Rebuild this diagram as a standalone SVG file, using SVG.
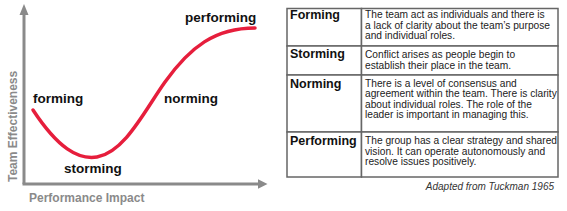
<svg xmlns="http://www.w3.org/2000/svg" width="567" height="211" viewBox="0 0 567 211">
<style>
.ax{stroke:#8a8a8a;stroke-width:3;fill:none}
.axh{fill:#8a8a8a}
.axl{font-family:"Liberation Sans",Arial,sans-serif;font-weight:bold;font-size:12px;fill:#8a8a8a}
.stage{font-family:"Liberation Sans",Arial,sans-serif;font-weight:bold;font-size:13.5px;fill:#111}
.curve{stroke:#e61e3c;stroke-width:3.5;fill:none;stroke-linecap:round}
.cell{fill:#fff;stroke:#666;stroke-width:1.5}
.lab{font-family:"Liberation Sans",Arial,sans-serif;font-weight:bold;font-size:12.5px;fill:#111}
.desc{font-family:"Liberation Sans",Arial,sans-serif;font-size:10.2px;fill:#222}
.cap{font-family:"Liberation Sans",Arial,sans-serif;font-style:italic;font-size:10px;fill:#333}
</style>
<g id="chart">
<g id="axes">
<line class="ax" x1="24" y1="184" x2="24" y2="13"/>
<polygon class="axh" points="19.5,15 24,4 28.5,15"/>
<line class="ax" x1="22.5" y1="184" x2="259" y2="184"/>
<polygon class="axh" points="258,179.3 267.5,184 258,188.7"/>
<text class="axl" x="29" y="202">Performance Impact</text>
<text class="axl" transform="translate(16.5,182) rotate(-90)" font-size="11.5">Team Effectiveness</text>
</g>
<path class="curve" d="M33,110 C58,148 78,160 97,157 C125,152 145,110 165,82 C190,47 215,28 255,28"/>
<text class="stage" x="33" y="103">forming</text>
<text class="stage" x="64" y="172.5">storming</text>
<text class="stage" x="164" y="103">norming</text>
<text class="stage" x="185" y="22">performing</text>
</g>
<g id="table">
<g id="row-forming">
<rect class="cell" x="287" y="8.5" width="74.5" height="37.5"/>
<rect class="cell" x="361.5" y="8.5" width="196.5" height="37.5"/>
<text class="lab" x="290" y="19">Forming</text>
<text class="desc" x="365" y="18">The team act as individuals and there is</text>
<text class="desc" x="365" y="28.5">a lack of clarity about the team’s purpose</text>
<text class="desc" x="365" y="39">and individual roles.</text>
</g>
<g id="row-storming">
<rect class="cell" x="287" y="46" width="74.5" height="29"/>
<rect class="cell" x="361.5" y="46" width="196.5" height="29"/>
<text class="lab" x="290" y="58">Storming</text>
<text class="desc" x="365" y="57.5">Conflict arises as people begin to</text>
<text class="desc" x="365" y="68.5">establish their place in the team.</text>
</g>
<g id="row-norming">
<rect class="cell" x="287" y="75" width="74.5" height="57"/>
<rect class="cell" x="361.5" y="75" width="196.5" height="57"/>
<text class="lab" x="290" y="88">Norming</text>
<text class="desc" x="365" y="87">There is a level of consensus and</text>
<text class="desc" x="365" y="97.4">agreement within the team. There is clarity</text>
<text class="desc" x="365" y="107.8">about individual roles. The role of the</text>
<text class="desc" x="365" y="118.2">leader is important in managing this.</text>
</g>
<g id="row-performing">
<rect class="cell" x="287" y="132" width="74.5" height="45"/>
<rect class="cell" x="361.5" y="132" width="196.5" height="45"/>
<text class="lab" x="290" y="144.5">Performing</text>
<text class="desc" x="365" y="144">The group has a clear strategy and shared</text>
<text class="desc" x="365" y="154.5">vision. It can operate autonomously and</text>
<text class="desc" x="365" y="165">resolve issues positively.</text>
</g>
<text class="cap" x="554" y="190" text-anchor="end">Adapted from Tuckman 1965</text>
</g>
</svg>
